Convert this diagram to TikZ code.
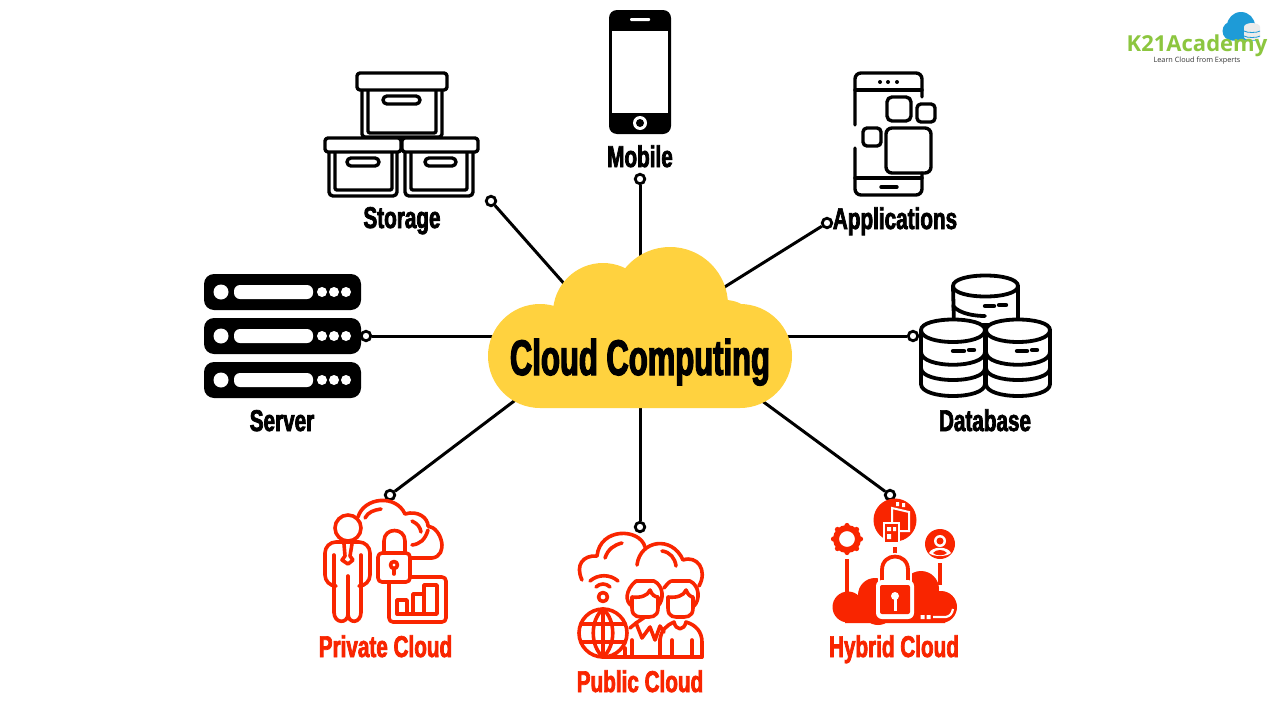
\documentclass[tikz,border=0pt]{standalone}
\usepackage{fontspec}
\setmainfont{Liberation Sans}
\newfontfamily\antonfont[FakeStretch=0.69,FakeBold=2.4]{Liberation Sans Bold}
\newfontfamily\antonbig[FakeStretch=0.62,FakeBold=2.4]{Liberation Sans Bold}
\newfontfamily\logofont{Open Sans}
\definecolor{cloudy}{HTML}{FFD23F}
\definecolor{redi}{HTML}{F92500}
\definecolor{logog}{HTML}{8CC63F}
\definecolor{logob}{HTML}{1E9BD7}
\tikzset{
  lbl/.style={inner sep=0pt,anchor=base,font=\antonfont\fontsize{30}{30}\selectfont,text=black},
  redlbl/.style={lbl,text=redi},
  dotnode/.style={circle,draw=black,fill=white,line width=2.8pt,inner sep=0pt,minimum size=9.5pt},
  conn/.style={draw=black,line width=3pt},
  blk/.style={draw=black,line width=3.4pt,line join=round,line cap=round},
  redl/.style={draw=redi,line width=3.6pt,line join=round,line cap=round},
}
\begin{document}
\begin{tikzpicture}[x=1pt,y=-1pt]
\useasboundingbox (0,0) rectangle (1280,720);
\fill[white] (0,0) rectangle (1280,720);

% connector ends
\node[dotnode] (dStorage) at (491,201) {};
\node[dotnode] (dMobile) at (640,179) {};
\node[dotnode] (dApps) at (827,223) {};
\node[dotnode] (dServer) at (366,336) {};
\node[dotnode] (dDb) at (913,336) {};
\node[dotnode] (dPrivate) at (390,495) {};
\node[dotnode] (dPublic) at (640,527) {};
\node[dotnode] (dHybrid) at (890,495) {};
\coordinate (cStorage) at (575,296);
\coordinate (cMobile) at (640,265);
\coordinate (cApps) at (715,293);
\coordinate (cServer) at (510,336);
\coordinate (cDb) at (770,336);
\coordinate (cPrivate) at (530,389);
\coordinate (cPublic) at (640,395);
\coordinate (cHybrid) at (750,392);
\draw[conn] (dStorage) -- (cStorage);
\draw[conn] (dMobile) -- (cMobile);
\draw[conn] (dApps) -- (cApps);
\draw[conn] (dServer) -- (cServer);
\draw[conn] (dDb) -- (cDb);
\draw[conn] (dPrivate) -- (cPrivate);
\draw[conn] (dPublic) -- (cPublic);
\draw[conn] (dHybrid) -- (cHybrid);

% central cloud
\fill[cloudy] (540,356) circle[radius=52pt] (740,356) circle[radius=52pt]
  (603,313) circle[radius=50pt] (670,305) circle[radius=58pt] (725,335) circle[radius=35pt]
  (540,345) rectangle (740,408);
\node[inner sep=0pt,anchor=base,font=\antonbig\fontsize{50}{50}\selectfont] (hub) at (640,375) {Cloud Computing};

% Mobile
\fill[black,rounded corners=8pt] (609,10) rectangle (671,134);
\fill[white] (612,31) rectangle (668,113);
\fill[white,rounded corners=1pt] (630,18) rectangle (650,21);
\fill[white] (640,123) circle[radius=7pt];
\fill[black] (640,123) circle[radius=4pt];
\node[lbl] (tMobile) at (640,167) {Mobile};

% Storage
\begin{scope}[blk]
\draw[rounded corners=3pt,fill=white] (362,88) -- (362,137) -- (442,137) -- (442,88);
\draw[rounded corners=2pt] (368,88) -- (368,133) -- (436,133) -- (436,88);
\draw[rounded corners=3pt,fill=white] (357,73) rectangle (447,90);
\draw[rounded corners=4pt] (383,96) rectangle (420,104);
\draw[rounded corners=4pt] (329,150) -- (329,196) -- (397,196) -- (397,150);
\draw[rounded corners=2pt] (335,150) -- (335,190) -- (392,190) -- (392,150);
\draw[rounded corners=3pt,fill=white] (325,138) rectangle (401,152);
\draw[rounded corners=4pt] (347,158) rectangle (379,166);
\draw[rounded corners=4pt] (405,150) -- (405,196) -- (473,196) -- (473,150);
\draw[rounded corners=2pt] (411,150) -- (411,190) -- (467,190) -- (467,150);
\draw[rounded corners=3pt,fill=white] (402,138) rectangle (478,152);
\draw[rounded corners=4pt] (425,158) rectangle (456,166);
\end{scope}
\node[lbl] (tStorage) at (402,228) {Storage};

% Applications
\begin{scope}[blk]
\draw[rounded corners=6pt] (922,97) -- (922,73) -- (855,73) -- (855,125);
\draw[rounded corners=6pt] (855,148) -- (855,195) -- (922,195) -- (922,173);
\draw (855,90) -- (922,90);
\draw (855,178) -- (922,178);
\draw[rounded corners=5pt] (887,97) rectangle (911,121);
\draw[rounded corners=4pt] (917,104) rectangle (935,122);
\draw[rounded corners=4pt] (863,128) rectangle (881,146);
\draw[rounded corners=6pt] (886,128) rectangle (931,173);
\draw (881,187) -- (897,187);
\end{scope}
\fill (880,82) circle[radius=2pt] (888,82) circle[radius=2pt] (897,82) circle[radius=2pt];
\node[lbl] (tApps) at (895,229) {Applications};

% Server
\foreach \yy in {274,318,362}{
  \fill[black,rounded corners=10pt] (204,\yy) rectangle (361,\yy+36);
  \fill[white] (221,\yy+18) circle[radius=7.5pt];
  \fill[white,rounded corners=6pt] (234,\yy+11) rectangle (313,\yy+25);
  \fill[white] (322,\yy+18) circle[radius=5pt] (334,\yy+18) circle[radius=5pt] (346,\yy+18) circle[radius=5pt];
}
\node[lbl] (tServer) at (282,431) {Server};

% Database
\begin{scope}[blk,line width=3.8pt]
\draw[fill=white] (953,286) .. controls (953,272) and (1018,272) .. (1018,286)
  -- (1018,325) -- (954,325) -- cycle;
\draw (953,286) .. controls (953,300) and (1018,300) .. (1018,286);
\draw (953,306) .. controls (960,314) and (975,316) .. (985,316);
\draw[fill=white] (921,330) .. controls (921,316) and (985,316) .. (985,330)
  -- (985,384) .. controls (985,400) and (921,400) .. (921,384) -- cycle;
\draw[fill=white] (986,330) .. controls (986,316) and (1050,316) .. (1050,330)
  -- (1050,384) .. controls (1050,400) and (986,400) .. (986,384) -- cycle;
\draw (921,330) .. controls (921,346) and (985,346) .. (985,330);
\draw (986,330) .. controls (986,346) and (1050,346) .. (1050,330);
\draw (921,352) .. controls (921,369) and (985,369) .. (985,352);
\draw (986,352) .. controls (986,369) and (1050,369) .. (1050,352);
\draw (921,368) .. controls (921,384) and (985,384) .. (985,368);
\draw (986,368) .. controls (986,384) and (1050,384) .. (1050,368);
\draw[line width=4.4pt] (953,351) -- (964,351) (969,350) -- (974,350);
\draw[line width=4.4pt] (1017,351) -- (1027,351) (1032,350) -- (1037,350);
\draw[line width=4.4pt] (985,306) -- (994,306) (999,305) -- (1006,305);
\end{scope}
\node[lbl] (tDb) at (985,431) {Database};

% Private Cloud
\begin{scope}[redl]
\draw (348,528) circle[radius=13pt];
\draw[rounded corners=11pt] (334,586) -- (325,586) -- (325,542) -- (370,542) -- (370,586) -- (362,586);
\draw (334,555) -- (334,612);
\draw (361,555) -- (361,612);
\draw (348,576) -- (348,616);
\draw (334,612) .. controls (334,624) and (348,624) .. (348,614) .. controls (348,624) and (361,624) .. (361,612);
\draw (344,544) -- (345,556) -- (342,560) -- (348,564) -- (353,560) -- (350,556) -- (352,544);
\draw (358,517) .. controls (364,497) and (396,494) .. (405,514) .. controls (418,510) and (428,518) .. (428,526)
 .. controls (442,528) and (449,556) .. (432,558) -- (408,558);
\draw (365,518) .. controls (368,512) and (374,510) .. (381,509);
\draw (412,521) .. controls (418,524) and (420,527) .. (421,532);
\draw (412,545) .. controls (420,544) and (425,540) .. (428,530);
\draw[rounded corners=4pt,fill=white] (378,553) rectangle (410,582);
\draw (384,553) -- (384,541) .. controls (384,527) and (405,527) .. (405,541) -- (405,553);
\draw (394,565) circle[radius=3.5pt];
\draw (394,569) -- (394,574);
\draw[rounded corners=4pt] (410,577) -- (446,577) -- (446,622) -- (389,622) -- (389,582);
\draw (397,600) rectangle (407,614);
\draw (413,614) -- (413,594) -- (424,594) -- (424,614);
\draw (424,614) -- (424,585) -- (437,585) -- (437,614) -- (397,614);
\end{scope}
\node[redlbl] (tPrivate) at (385.5,657) {Private Cloud};

% Public Cloud
\begin{scope}[redl]
\draw (582,580) .. controls (575,565) and (583,555) .. (597,556)
 .. controls (600,527) and (640,528) .. (645,547);
\draw (637,565) .. controls (640,540) and (672,535) .. (683,560)
 .. controls (697,555) and (708,570) .. (699,586);
\draw (605,558) .. controls (608,549) and (614,545) .. (622,543);
\draw (662,551) .. controls (670,552) and (675,558) .. (676,566);
\draw (603,597) circle[radius=4.5pt];
\draw (596,587) .. controls (600,583) and (606,583) .. (610,587);
\draw (590,581) .. controls (598,574) and (610,574) .. (618,581);
\draw (603,633) circle[radius=24pt];
\draw (603,609) .. controls (590,620) and (590,646) .. (603,657);
\draw (603,609) .. controls (616,620) and (616,646) .. (603,657);
\draw (603,609) -- (603,657);
\draw (581,624) -- (625,624) (581,642) -- (625,642);
\draw (603,657) -- (702,657);
% left head
\draw (632,606) .. controls (625,602) and (625,590) .. (636,581) -- (654,581)
  .. controls (664,586) and (664,600) .. (658,606);
\draw (632,608) -- (632,597) .. controls (640,598) and (648,596) .. (650,590)
  .. controls (652,595) and (655,597) .. (658,597) -- (658,608)
  .. controls (658,618) and (650,617) .. (645,617) .. controls (640,617) and (632,618) .. (632,608);
% right head
\draw (664,588) .. controls (668,583) and (670,581) .. (672,581) -- (690,581)
  .. controls (700,586) and (700,600) .. (694,606);
\draw (668,608) -- (668,597) .. controls (676,598) and (684,596) .. (686,590)
  .. controls (688,595) and (691,597) .. (693,597) -- (693,608)
  .. controls (693,618) and (685,617) .. (680,617) .. controls (675,617) and (668,618) .. (668,608);
% bodies
\draw (630,628) -- (636,623) -- (642,638) -- (650,627) -- (655,640) -- (660,626) -- (664,632);
\draw (636,623) -- (645,617);
\draw (660,640) -- (660,657);
\draw (632,640) -- (632,657) (625,648) -- (625,657);
\draw (660,640) .. controls (661,630) and (667,625) .. (674,622)
  .. controls (676,631) and (684,631) .. (686,622)
  .. controls (696,625) and (702,632) .. (702,642) -- (702,657);
\draw (672,640) -- (672,657) (692,640) -- (692,657);
\end{scope}
\node[redlbl] (tPublic) at (640,692) {Public Cloud};

% Hybrid Cloud
\fill[redi] (895,520) circle[radius=21.5pt];
\draw[white,line width=2pt,fill=redi] (892,508) -- (909,512) -- (909,531) -- (892,531) -- cycle;
\draw[white,line width=2pt,fill=redi] (884,523) -- (899,523) -- (899,543) -- (884,543) -- cycle;
\fill[white] (887,527) rectangle (891,531) (887,534) rectangle (891,539) (893,527) rectangle (896,531);
\fill[white] (896,502) rectangle (899,506) (902,503) rectangle (905,507);
\draw[redi,line width=4pt] (895,547) -- (895,556);
\draw[redi,line width=6pt] (847,539) circle[radius=11pt];
\foreach \a in {0,45,...,315}{\fill[redi] (847,539) ++(\a:13.5pt) circle[radius=2.6pt];}
\draw[redi,line width=3.6pt] (847,559) -- (847,593);
\fill[redi] (940,544) circle[radius=15pt];
\fill[white] (940,541) circle[radius=6pt];
\fill[redi] (940,541) circle[radius=3.5pt];
\fill[white] (929,553) .. controls (932,546) and (948,546) .. (951,553) .. controls (947,557) and (933,557) .. (929,553) -- cycle;
\fill[redi] (933,553) .. controls (936,549) and (944,549) .. (947,553) .. controls (944,556) and (936,556) .. (933,553) -- cycle;
\draw[redi,line width=3.6pt] (940,563) -- (940,585);
\fill[redi] (848,607) circle[radius=15.5pt] (878,608) circle[radius=17pt] (875,595) circle[radius=17pt]
  (915,592) circle[radius=12pt] (910,600) circle[radius=22pt] (921,589) circle[radius=18pt]
  (941,607) circle[radius=16pt] (845,605) rectangle (945,623);
\fill[white] (878,570) rectangle (912,585);
\draw[white,line width=7pt] (882,583) -- (882,570) .. controls (882,552) and (908,552) .. (908,570) -- (908,583);
\draw[redi,line width=3.8pt] (882,583) -- (882,570) .. controls (882,552) and (908,552) .. (908,570) -- (908,583);
\fill[white,rounded corners=6pt] (876,580) rectangle (914,619);
\fill[redi,rounded corners=2pt] (880,585) rectangle (910,614);
\fill[white] (895,596) circle[radius=4pt];
\fill[white] (893.5,596) rectangle (896.5,611);
\fill[white] (920.5,615) rectangle (924.5,619) (926.5,615) rectangle (930.5,619);
\draw[white,line width=2.2pt] (933,617) -- (946,617) .. controls (950,616) and (952,614) .. (953,609);
\node[redlbl] (tHybrid) at (894,657) {Hybrid Cloud};

% Logo
\fill[logob] (1232,31) circle[radius=9.5pt] (1241,26) circle[radius=14pt] (1232,30) rectangle (1256,40.5);
\fill[logob] (1250,33) circle[radius=7pt];
\fill[white!92!black] (1252,27) ellipse[x radius=8pt,y radius=4pt] (1244,27) rectangle (1260,37) (1252,37) ellipse[x radius=8pt,y radius=3pt];
\draw[logob,line width=0.8pt] (1244,31) .. controls (1247,33) and (1257,33) .. (1260,31);
\draw[logob,line width=0.8pt] (1244,36) .. controls (1247,38) and (1257,38) .. (1260,36);
\node[inner sep=0pt,text=logog,font=\logofont\bfseries\fontsize{22}{22}\selectfont] (logo) at (1197,46) {K21Academy};
\node[inner sep=0pt,text=black!80,font=\logofont\fontsize{7.3}{7.3}\selectfont] (slogan) at (1197,61) {Learn Cloud from Experts};
\end{tikzpicture}
\end{document}
